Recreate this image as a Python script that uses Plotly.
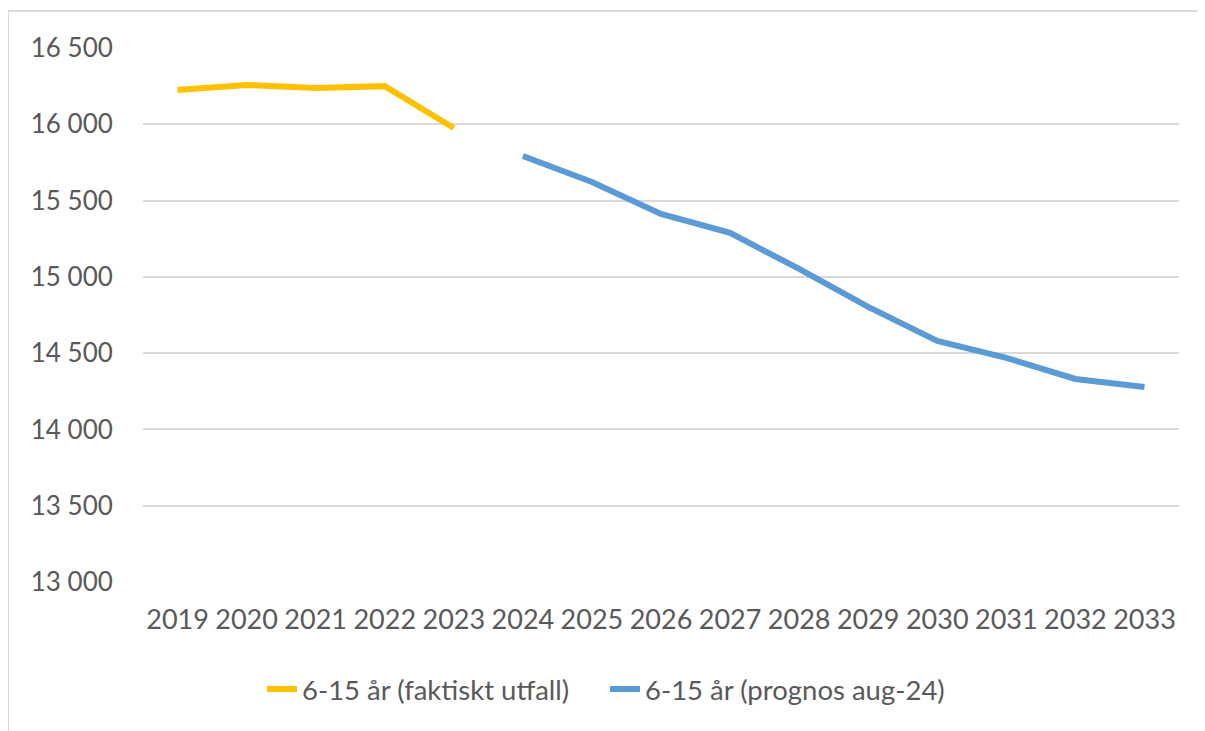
import plotly.graph_objects as go

years = [str(y) for y in range(2019, 2034)]
actual_years = years[:5]
actual_vals = [16225, 16258, 16238, 16250, 15976]
prog_years = years[5:]
prog_vals = [15792, 15622, 15412, 15288, 15052, 14803, 14580, 14469, 14331, 14278]

name_actual = "6-15 år (faktiskt utfall)"
name_prog = "6-15 år (prognos aug-24)"

tick_vals = [13000, 13500, 14000, 14500, 15000, 15500, 16000, 16500]
tick_text = ["13 000", "13 500", "14 000", "14 500", "15 000", "15 500", "16 000", "16 500"]

font_family = "Lato"
text_color = "#595959"
fs = 26

# the page body has an 8px default margin, so target positions are offset by 8px
OFF = 8
W, H = 1205, 731
L = 143 - OFF
T = 48 - OFF
plot_right = 1179 - OFF
plot_bottom = 582 - OFF
R = W - plot_right
B = H - plot_bottom
pw = W - L - R
ph = H - T - B

def px_x(p):
    return (p - OFF - L) / pw

def px_y(p):
    return (plot_bottom - (p - OFF)) / ph

fig = go.Figure()
fig.add_trace(go.Scatter(x=actual_years, y=actual_vals, mode="lines", name=name_actual,
                         line=dict(color="#FFC000", width=6)))
fig.add_trace(go.Scatter(x=prog_years, y=prog_vals, mode="lines", name=name_prog,
                         line=dict(color="#5B9BD5", width=6)))

fig.update_layout(
    width=W, height=H,
    margin=dict(l=L, r=R, t=T, b=B, autoexpand=False),
    paper_bgcolor="white", plot_bgcolor="white",
    font=dict(family=font_family, size=fs, color=text_color),
    showlegend=True,
    legend=dict(orientation="h", x=px_x(262), xanchor="left", y=px_y(689), yanchor="middle",
                font=dict(size=27.5, color=text_color), entrywidth=298, entrywidthmode="pixels",
                tracegroupgap=0, bgcolor="rgba(0,0,0,0)"),
    xaxis=dict(type="category", categoryorder="array", categoryarray=years,
               range=[-0.5, 14.5], automargin=False,
               showgrid=False, showline=False, zeroline=False,
               ticks="outside", ticklen=14, tickcolor="white",
               tickfont=dict(size=27, color=text_color)),
    yaxis=dict(range=[13000, 16500], tickvals=tick_vals, ticktext=tick_text, automargin=False,
               showgrid=True, gridcolor="#d9d9d9", gridwidth=2,
               showline=False, zeroline=False,
               ticks="outside", ticklen=24, tickcolor="white",
               tickfont=dict(size=fs, color=text_color)),
    shapes=[dict(type="rect", xref="paper", yref="paper",
                 x0=px_x(8), x1=px_x(1240), y0=px_y(770), y1=px_y(11),
                 line=dict(color="#d9d9d9", width=2), fillcolor="rgba(0,0,0,0)", layer="below")],
)

fig.write_html("out.html")
